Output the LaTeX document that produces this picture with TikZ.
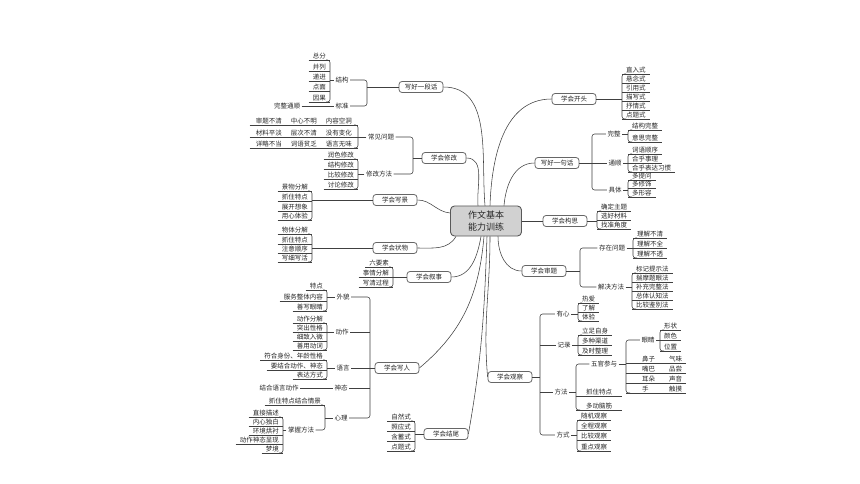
\documentclass[tikz,border=0pt]{standalone}
\usepackage{fontspec}
\newfontfamily\cjk{Noto Sans CJK SC}
\newcommand\mybrL[2]{\draw[br] ([xshift=-4pt]#1.south east) -- (#1.south east) -- (#2.south east) -- ([xshift=-4pt]#2.south east);}
\newcommand\mybrR[2]{\draw[br] ([xshift=4pt]#1.south west) -- (#1.south west) -- (#2.south west) -- ([xshift=4pt]#2.south west);}
\begin{document}
\begin{tikzpicture}[x=1pt,y=-1pt,
 ln/.style={draw=black!75, line width=0.55pt},
 tx/.style={font=\cjk\fontsize{6.5}{7.5}\selectfont, text=black!85, inner ysep=1.2pt},
 lr/.style={tx, anchor=south west, inner xsep=4pt, append after command={(\tikzlastnode.south west) edge[ln] (\tikzlastnode.south east)}},
 ll/.style={tx, anchor=south east, inner xsep=4pt, append after command={(\tikzlastnode.south west) edge[ln] (\tikzlastnode.south east)}},
 lab/.style={tx, inner xsep=1.5pt},
 br/.style={ln, rounded corners=2.5pt},
 mbox/.style={tx, draw=black!60, line width=0.8pt, rounded corners=3pt, fill=white, minimum width=44pt, minimum height=11pt, inner xsep=5pt},
 hub/.style={font=\cjk\fontsize{9}{12}\selectfont, text=black!85, draw=black!65, line width=0.9pt, fill=black!18, rounded corners=4pt, minimum width=71pt, minimum height=30pt, align=center}
]
\fill[white] (0,0) rectangle (860,484);
\useasboundingbox (0,0) rectangle (860,484);

% hub and main branches
\node[hub] (hub) at (486,221) {作文基本\\能力训练};
\node[mbox] (dh) at (421,87) {写好一段话};
\node[mbox] (xg) at (444,158) {学会修改};
\node[mbox] (xj) at (395,200) {学会写景};
\node[mbox] (zw) at (395,248) {学会状物};
\node[mbox] (xs) at (429,277) {学会叙事};
\node[mbox] (xr) at (397,368) {学会写人};
\node[mbox] (jw) at (446,434) {学会结尾};
\node[mbox] (kt) at (574,99) {学会开头};
\node[mbox] (jh) at (557,163) {写好一句话};
\node[mbox] (gs) at (565,221) {学会构思};
\node[mbox] (st) at (544,271) {学会审题};
\node[mbox] (gc) at (510,377) {学会观察};

\draw[ln] ([xshift=-8pt]hub.north) to[out=95,in=0] (xg.east);
\draw[ln] ([xshift=-1pt]hub.north) to[out=95,in=0] (dh.east);
\draw[ln] ([xshift=4pt]hub.north) to[out=88,in=180] (kt.west);
\draw[ln] ([xshift=18pt]hub.north) to[out=85,in=180] (jh.west);
\draw[ln] ([yshift=8pt]hub.west) to[out=175,in=0] (xj.east);
\draw[ln] ([xshift=-30pt]hub.south) to[out=240,in=0] (zw.east);
\draw[ln] ([xshift=-5pt]hub.south) to[out=-100,in=0] (xs.east);
\draw[ln] ([xshift=-2pt]hub.south) to[out=-95,in=40] (xr.east);
\draw[ln] ([xshift=1pt]hub.south) to[out=-92,in=80] (jw.east);
\draw[ln] ([xshift=4pt]hub.south) to[out=-90,in=95] (gc.west);
\draw[ln] ([xshift=12pt]hub.south) to[out=-90,in=180] (st.west);
\draw[ln] (hub.east) -- (gs.west);

% ---- 写好一段话
\coordinate (b1) at (367,0);
\node[lab] (jg) at (342,80) {结构};
\node[lab] (bz) at (342,106) {标准};
\draw[ln] (dh.west) -- (dh.west -| b1);
\draw[br] (jg.east) -- (jg.east -| b1) -- (bz.east -| b1) -- (bz.east);
\node[ll] (a1) at (330,60) {总分};
\node[ll] (a2) at (330,71) {并列};
\node[ll] (a3) at (330,81) {递进};
\node[ll] (a4) at (330,91) {点面};
\node[ll] (a5) at (330,102) {因果};
\mybrL{a1}{a5}
\draw[ln] (jg.west) -- (jg.west -| a1.south east);
\node[lab] (wzts) at (287,106) {完整通顺};
\draw[ln] (wzts.east) -- (bz.west);

% ---- 学会修改
\coordinate (b2) at (413,0);
\node[lab] (cjwt) at (381,137) {常见问题};
\node[lab] (xgff) at (379,174) {修改方法};
\draw[ln] (xg.west) -- (xg.west -| b2);
\draw[br] (cjwt.east) -- (cjwt.east -| b2) -- (xgff.east -| b2) -- (xgff.east);
\node[ll, inner xsep=6pt] (r1) at (358,125) {审题不清\hspace{9pt}中心不明\hspace{9pt}内容空洞};
\node[ll, inner xsep=6pt] (r2) at (358,137) {材料平淡\hspace{9pt}层次不清\hspace{9pt}没有变化};
\node[ll, inner xsep=6pt] (r3) at (358,148) {详略不当\hspace{9pt}词语贫乏\hspace{9pt}语言无味};
\mybrL{r1}{r3}
\draw[ln] (cjwt.west) -- (cjwt.west -| r1.south east);
\node[ll] (m1) at (358,159) {润色修改};
\node[ll] (m2) at (358,169) {结构修改};
\node[ll] (m3) at (358,179) {比较修改};
\node[ll] (m4) at (358,189) {讨论修改};
\mybrL{m1}{m4}
\draw[ln] (xgff.west) -- (xgff.west -| m1.south east);

% ---- 学会写景
\node[ll] (j1) at (312,191) {景物分解};
\node[ll] (j2) at (312,201) {抓住特点};
\node[ll] (j3) at (312,211) {展开想象};
\node[ll] (j4) at (312,220) {用心体验};
\mybrL{j1}{j4}
\draw[ln] (xj.west) -- (xj.west -| j1.south east);

% ---- 学会状物
\node[ll] (w1) at (312,234) {物体分解};
\node[ll] (w2) at (312,244) {抓住特点};
\node[ll] (w3) at (312,253) {注意顺序};
\node[ll] (w4) at (312,262) {写细写活};
\mybrL{w1}{w4}
\draw[ln] (zw.west) -- (zw.west -| w1.south east);

% ---- 学会叙事
\node[ll] (s1) at (393,267) {六要素};
\node[ll] (s2) at (393,277) {事情分解};
\node[ll] (s3) at (393,287) {写清过程};
\mybrL{s1}{s3}
\draw[ln] (xs.west) -- (xs.west -| s1.south east);

% ---- 学会写人
\coordinate (b3) at (370,0);
\node[lab] (wm) at (343,297) {外貌};
\node[lab] (dz) at (342,332) {动作};
\node[lab] (yy) at (343,368) {语言};
\node[lab] (sta) at (341,388) {神态};
\node[lab] (xl) at (341,418) {心理};
\draw[ln] (xr.west) -- (xr.west -| b3);
\draw[br] (wm.east) -- (wm.east -| b3) -- (xl.east -| b3) -- (xl.east);
\draw[ln] (dz.east) -- (dz.east -| b3);
\draw[ln] (yy.east) -- (yy.east -| b3);
\draw[ln] (sta.east) -- (sta.east -| b3);
\node[ll] (p1) at (327,290) {特点};
\node[ll] (p2) at (327,301) {服务整体内容};
\node[ll] (p3) at (327,311) {善写眼睛};
\mybrL{p1}{p3}
\draw[ln] (wm.west) -- (wm.west -| p1.south east);
\node[ll] (d1) at (327,323) {动作分解};
\node[ll] (d2) at (327,332) {突出性格};
\node[ll] (d3) at (327,341) {细致入微};
\node[ll] (d4) at (327,350) {善用动词};
\mybrL{d1}{d4}
\draw[ln] (dz.west) -- (dz.west -| d1.south east);
\node[ll] (y1) at (327,360) {符合身份、年龄性格};
\node[ll] (y2) at (327,370) {要结合动作、神态};
\node[ll] (y3) at (327,379) {表达方式};
\mybrL{y1}{y3}
\draw[ln] (yy.west) -- (yy.west -| y1.south east);
\node[lab] (jhyy) at (279,388) {结合语言动作};
\draw[ln] (jhyy.east) -- (sta.west);
\node[ll] (zt) at (325,405) {抓住特点结合情景};
\node[lab] (zwff) at (301,430) {掌握方法};
\draw[br] ([xshift=-4pt]zt.south east) -- (zt.south east) -- (zwff.east -| zt.south east) -- (zwff.east);
\draw[ln] (xl.west) -- (xl.west -| zt.south east);
\node[ll] (f1) at (283,417) {直接描述};
\node[ll] (f2) at (283,426) {内心独白};
\node[ll] (f3) at (283,435) {环境烘衬};
\node[ll] (f4) at (283,444) {动作神态显现};
\node[ll] (f5) at (283,453) {梦境};
\mybrL{f1}{f5}
\draw[ln] (zwff.west) -- (zwff.west -| f1.south east);

% ---- 学会结尾
\node[ll] (e1) at (415,421) {自然式};
\node[ll] (e2) at (415,431) {照应式};
\node[ll] (e3) at (415,441) {含蓄式};
\node[ll] (e4) at (415,451) {点题式};
\mybrL{e1}{e4}
\draw[ln] (jw.west) -- (jw.west -| e1.south east);

% ---- 学会开头
\node[lr] (k1) at (622,74) {直入式};
\node[lr] (k2) at (622,83) {悬念式};
\node[lr] (k3) at (622,92) {引用式};
\node[lr] (k4) at (622,101) {描写式};
\node[lr] (k5) at (622,110) {抒情式};
\node[lr] (k6) at (622,119) {点题式};
\mybrR{k1}{k6}
\draw[ln] (kt.east) -- (kt.east -| k1.south west);

% ---- 写好一句话
\coordinate (b4) at (592,0);
\node[lab] (wz) at (614,134) {完整};
\node[lab] (ts) at (615,163) {通顺};
\node[lab] (jt) at (615,190) {具体};
\draw[ln] (jh.east) -- (jh.east -| b4);
\draw[br] (wz.west) -- (wz.west -| b4) -- (jt.west -| b4) -- (jt.west);
\draw[ln] (ts.west) -- (ts.west -| b4);
\node[lr] (h1) at (628,130) {结构完整};
\node[lr] (h2) at (628,142) {意思完整};
\mybrR{h1}{h2}
\draw[ln] (wz.east) -- (wz.east -| h1.south west);
\node[lr] (t1) at (628,154) {词语顺序};
\node[lr] (t2) at (628,163) {合乎事理};
\node[lr] (t3) at (628,172) {合乎表达习惯};
\mybrR{t1}{t3}
\draw[ln] (ts.east) -- (ts.east -| t1.south west);
\node[lr] (q1) at (628,180) {多提问};
\node[lr] (q2) at (628,188) {多修饰};
\node[lr] (q3) at (628,197) {多形容};
\mybrR{q1}{q3}
\draw[ln] (jt.east) -- (jt.east -| q1.south west);

% ---- 学会构思
\node[lr] (g1) at (597,211) {确定主题};
\node[lr] (g2) at (597,220) {选好材料};
\node[lr] (g3) at (597,229) {找准角度};
\mybrR{g1}{g3}
\draw[ln] (gs.east) -- (gs.east -| g1.south west);

% ---- 学会审题
\coordinate (b5) at (580,0);
\node[lab] (czwt) at (612,248) {存在问题};
\node[lab] (jjff) at (611,287) {解决方法};
\draw[ln] (st.east) -- (st.east -| b5);
\draw[br] (czwt.west) -- (czwt.west -| b5) -- (jjff.west -| b5) -- (jjff.west);
\node[lr] (u1) at (633,238) {理解不清};
\node[lr] (u2) at (633,248) {理解不全};
\node[lr] (u3) at (633,258) {理解不透};
\mybrR{u1}{u3}
\draw[ln] (czwt.east) -- (czwt.east -| u1.south west);
\node[lr] (v1) at (632,273) {标记提示法};
\node[lr] (v2) at (632,282) {揣摩题眼法};
\node[lr] (v3) at (632,291) {补充完整法};
\node[lr] (v4) at (632,300) {总体认知法};
\node[lr] (v5) at (632,309) {比较鉴别法};
\mybrR{v1}{v5}
\draw[ln] (jjff.east) -- (jjff.east -| v1.south west);

% ---- 学会观察
\coordinate (b6) at (540,0);
\node[lab] (yx) at (563,314) {有心};
\node[lab] (jl) at (564,345) {记录};
\node[lab] (ff) at (561,392) {方法};
\node[lab] (fs) at (563,435) {方式};
\draw[ln] (gc.east) -- (gc.east -| b6);
\draw[br] (yx.west) -- (yx.west -| b6) -- (fs.west -| b6) -- (fs.west);
\draw[ln] (jl.west) -- (jl.west -| b6);
\draw[ln] (ff.west) -- (ff.west -| b6);
\node[lr] (o1) at (578,303) {热爱};
\node[lr] (o2) at (578,312) {了解};
\node[lr] (o3) at (578,321) {体验};
\mybrR{o1}{o3}
\draw[ln] (yx.east) -- (yx.east -| o1.south west);
\node[lr] (n1) at (578,335) {立足自身};
\node[lr] (n2) at (578,345) {多种渠道};
\node[lr] (n3) at (578,355) {及时整理};
\mybrR{n1}{n3}
\draw[ln] (jl.east) -- (jl.east -| n1.south west);
\node[lab] (wgcy) at (604,364) {五官参与};
\node[lr, minimum width=46pt] (x2) at (576,396) {抓住特点};
\node[lr, minimum width=46pt] (x3) at (576,410) {多动脑筋};
\draw[br] (wgcy.west) -- (wgcy.west -| x3.south west) -- (x3.south west) -- ([xshift=4pt]x3.south west);
\draw[ln] (ff.east) -- (ff.east -| x3.south west);
\coordinate (b7) at (626,0);
\node[lab] (yj) at (648,340) {眼睛};
\node[lr] (c1) at (626,363) {\hspace{12pt}\makebox[27pt][l]{鼻子}气味};
\node[lr] (c2) at (626,373) {\hspace{12pt}\makebox[27pt][l]{嘴巴}品尝};
\node[lr] (c3) at (626,383) {\hspace{12pt}\makebox[27pt][l]{耳朵}声音};
\node[lr] (c4) at (626,393) {\hspace{12pt}\makebox[27pt][l]{手}触摸};
\draw[br] (yj.west) -- (yj.west -| b7) -- (c4.south west) -- ([xshift=4pt]c4.south west);
\draw[ln] (wgcy.east) -- (wgcy.east -| b7);
\node[lr] (i1) at (660,330) {形状};
\node[lr] (i2) at (660,340) {颜色};
\node[lr] (i3) at (660,351) {位置};
\mybrR{i1}{i3}
\draw[ln] (yj.east) -- (yj.east -| i1.south west);
\node[lr] (l1) at (577,420) {随机观察};
\node[lr] (l2) at (577,430) {全程观察};
\node[lr] (l3) at (577,440) {比较观察};
\node[lr] (l4) at (577,451) {重点观察};
\mybrR{l1}{l4}
\draw[ln] (fs.east) -- (fs.east -| l1.south west);
\end{tikzpicture}
\end{document}
